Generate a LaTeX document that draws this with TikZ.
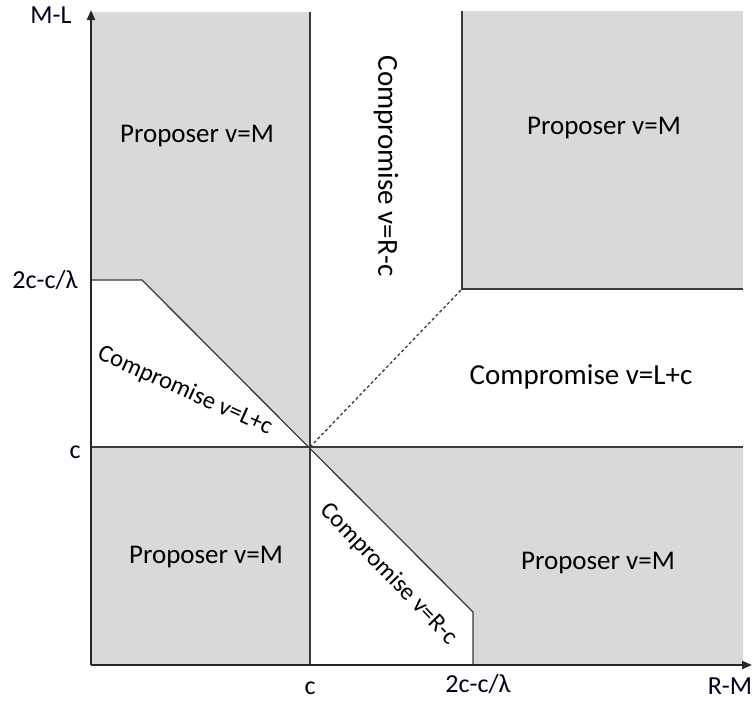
\documentclass[tikz,border=0pt]{standalone}
\usepackage{fontspec}
\setmainfont{Carlito}
\usetikzlibrary{arrows.meta}
\definecolor{regiongray}{HTML}{D9D9D9}
\definecolor{linegray}{HTML}{3A3A3A}
\begin{document}
\begin{tikzpicture}[x=1pt,y=-1pt,
  region/.style={fill=regiongray,draw=none},
  bound/.style={draw=linegray,line width=1.3pt},
  dashbound/.style={draw=linegray,line width=1.3pt,dash pattern=on 3pt off 2.5pt},
  axisline/.style={draw=black!85,line width=2pt,-{Triangle[length=10pt,width=8pt]}},
  lbl/.style={font=\fontsize{27}{32}\selectfont,text=black,inner sep=0pt},
  biglbl/.style={font=\fontsize{29}{34}\selectfont,text=black,inner sep=0pt},
  diaglbl/.style={font=\fontsize{24.5}{30}\selectfont,text=black,inner sep=0pt},
  axlbl/.style={font=\fontsize{26}{31}\selectfont,text=black!90!blue,inner sep=0pt,anchor=base}]
\useasboundingbox (0,0) rectangle (755,702);
% key points
\coordinate (O) at (91,665);
\coordinate (Ytop) at (91,10);
\coordinate (Xend) at (752,665);
\coordinate (TL) at (91,12);
\coordinate (Ctop) at (310,12);
\coordinate (C) at (310,447);
\coordinate (Cbot) at (310,665);
\coordinate (Yc) at (91,447);
\coordinate (Ylam) at (91,280);
\coordinate (K) at (142,280);
\coordinate (Q) at (473,612);
\coordinate (Qbot) at (473,665);
\coordinate (Rc) at (743,447);
\coordinate (Rbot) at (743,665);
\coordinate (P) at (462,289);
\coordinate (Ptop) at (462,11);
\coordinate (Rtop) at (743,11);
\coordinate (Rp) at (743,289);
% gray regions
\fill[region] (TL) -- (Ctop) -- (C) -- (K) -- (Ylam) -- cycle;
\fill[region] (Yc) -- (C) -- (Cbot) -- (O) -- cycle;
\fill[region] (C) -- (Rc) -- (Rbot) -- (Qbot) -- (Q) -- cycle;
\fill[region] (Ptop) -- (Rtop) -- (Rp) -- (P) -- cycle;
% boundaries
\draw[bound] (Ctop) -- (Cbot);
\draw[bound] (Yc) -- (Rc);
\draw[bound] (Ylam) -- (K) -- (Q) -- (Qbot);
\draw[bound] (Ptop) -- (P) -- (Rp);
\draw[dashbound] (C) -- (P);
% axes
\draw[axisline] (O) -- (Ytop);
\draw[axisline] (O) -- (Xend);
% axis labels
\node[axlbl] (ml) at (51,23) {M-L};
\node[axlbl] (ylam) at (45,288) {2c-c/λ};
\node[axlbl] (yc) at (75,458) {c};
\node[axlbl] (xc) at (310,694) {c};
\node[axlbl] (xlam) at (478,692) {2c-c/λ};
\node[axlbl] (rm) at (730,694) {R-M};
% region labels
\node[lbl] (p1) at (197,136) {Proposer v=M};
\node[lbl] (p2) at (604,128) {Proposer v=M};
\node[lbl] (p3) at (206,557) {Proposer v=M};
\node[lbl] (p4) at (598,563) {Proposer v=M};
\node[biglbl] (c1) at (581,377) {Compromise v=L+c};
\node[biglbl,rotate=-90] (c2) at (386,166) {Compromise v=R-c};
\node[diaglbl,rotate=-24] (c3) at (185,391) {Compromise v=L+c};
\node[diaglbl,rotate=-46] (c4) at (389,574) {Compromise v=R-c};
\end{tikzpicture}
\end{document}
